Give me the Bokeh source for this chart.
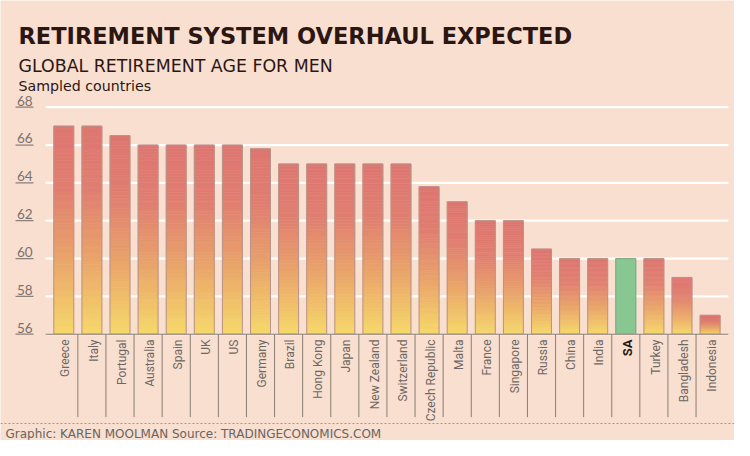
import math
from bokeh.plotting import figure
from bokeh.models import Range1d, Span, ColumnDataSource
from bokeh.core.properties import value
from bokeh.embed import file_html
from bokeh.resources import INLINE

# ---------------- data ----------------
countries = ["Greece", "Italy", "Portugal", "Australia", "Spain", "UK", "US", "Germany",
             "Brazil", "Hong Kong", "Japan", "New Zealand", "Switzerland", "Czech Republic",
             "Malta", "France", "Singapore", "Russia", "China", "India", "SA", "Turkey",
             "Bangladesh", "Indonesia"]
ages = [67, 67, 66.5, 66, 66, 66, 66, 65.8, 65, 65, 65, 65, 65, 63.8,
        63, 62, 62, 60.5, 60, 60, 60, 60, 59, 57]
highlight = "SA"
y_ticks = [56, 58, 60, 62, 64, 66, 68]
y_base = 56
title = "RETIREMENT SYSTEM OVERHAUL EXPECTED"
subtitle = "GLOBAL RETIREMENT AGE  FOR MEN"
note = "Sampled countries"
footer = "Graphic: KAREN MOOLMAN  Source: TRADINGECONOMICS.COM"

# ---------------- layout helpers ----------------
W, H = 734, 440
PX = 28.1      # pixels per category
X0 = 63.3      # canvas px of first category centre
PY = 18.917    # pixels per year
Y56 = 333.7    # canvas px of the baseline value


def dx(px):
    return (px - X0) / PX


def dy(py):
    return y_base + (Y56 - py) / PY


BG = "#f8dfd0"
DARK = "#2b1612"

p = figure(width=W, height=H, output_backend="svg", toolbar_location=None,
           x_range=Range1d(dx(0), dx(W)), y_range=Range1d(dy(H), dy(0)),
           min_border=0, min_border_left=0, min_border_right=0,
           min_border_top=0, min_border_bottom=0)
p.axis.visible = False
p.grid.visible = False
p.outline_line_color = None
p.background_fill_color = BG
p.border_fill_color = BG

n = len(countries)
idx = list(range(n))
left_edge = -0.65
right_edge = n - 1 + 0.65

# gridlines
p.segment(x0=[left_edge] * len(y_ticks), x1=[right_edge] * len(y_ticks),
          y0=y_ticks, y1=y_ticks, line_color="white", line_width=2.2)

# y tick labels with underline
p.segment(x0=[dx(15)] * len(y_ticks), x1=[dx(33)] * len(y_ticks),
          y0=y_ticks, y1=y_ticks, line_color="#8c7f78", line_width=1.3)
p.text(x=[dx(16.5)] * len(y_ticks), y=[t + 1.6 / PY for t in y_ticks],
       text=[str(t) for t in y_ticks], text_font=value("Lato"),
       text_font_size="13.5px", text_color="#7c706a",
       text_baseline="bottom", text_align="left")

# gradient bars
stops = [(0.0, (222, 118, 113)), (0.3, (224, 126, 113)),
         (0.62, (233, 162, 106)), (1.0, (246, 217, 106))]


def grad(t):
    for (t0, c0), (t1, c1) in zip(stops[:-1], stops[1:]):
        if t <= t1:
            f = (t - t0) / (t1 - t0) if t1 > t0 else 0
            c = [round(a + (b - a) * f) for a, b in zip(c0, c1)]
            return "#%02x%02x%02x" % tuple(c)
    return "#%02x%02x%02x" % stops[-1][1]


N = 60
gx, gb, gt, gc = [], [], [], []
for i, (c, v) in enumerate(zip(countries, ages)):
    if c == highlight:
        continue
    for k in range(N):
        b = y_base + (v - y_base) * k / N
        t = y_base + (v - y_base) * (k + 1) / N
        gx.append(i)
        gb.append(b)
        gt.append(t)
        gc.append(grad(1 - (k + 0.5) / N))
BW = 0.71
p.vbar(x=gx, bottom=gb, top=gt, width=BW, fill_color=gc, line_color=gc, line_width=0.6)

# highlight bar
hi = [i for i, c in enumerate(countries) if c == highlight]
p.vbar(x=hi, bottom=y_base, top=[ages[i] for i in hi], width=BW,
       fill_color="#88c791", line_color="#88c791")

# outlines
out_col = ["#7fa883" if c == highlight else "#b8948a" for c in countries]
p.vbar(x=idx, bottom=y_base, top=ages, width=BW, fill_alpha=0,
       line_color=out_col, line_width=1)

# baseline axis
p.segment(x0=[left_edge], x1=[right_edge], y0=[y_base], y1=[y_base],
          line_color="#a8978d", line_width=1.5)

# separators between categories
sep_x = [i + 0.5 for i in range(n - 1)]
p.segment(x0=sep_x, x1=sep_x, y0=[y_base] * len(sep_x), y1=[dy(416.7)] * len(sep_x),
          line_color="#8b7d72", line_width=1)

# category labels
lab_src = ColumnDataSource(dict(
    x=[i + 0.06 for i in idx], y=[dy(339)] * n, text=countries,
    color=["#1e1a18" if c == highlight else "#6e6864" for c in countries],
    style=["bold" if c == highlight else "normal" for c in countries],
    size=["13px" if c == highlight else "12px" for c in countries]))
p.text(x="x", y="y", text="text", source=lab_src, angle=math.pi / 2,
       text_align="right", text_baseline="middle", text_font=value("Roboto"),
       text_font_size="size", text_color="color", text_font_style="style")

# titles
p.text(x=[dx(18)], y=[dy(35)], text=[title], text_font=value("DejaVu Sans"),
       text_font_style="bold", text_font_size="22.5px", text_color=DARK,
       text_baseline="alphabetic", text_align="left")
p.text(x=[dx(18)], y=[dy(65.5)], text=[subtitle], text_font=value("DejaVu Sans"),
       text_font_size="17.4px", text_color=DARK,
       text_baseline="alphabetic", text_align="left")
p.text(x=[dx(18)], y=[dy(85)], text=[note], text_font=value("DejaVu Sans"),
       text_font_size="14.2px", text_color=DARK,
       text_baseline="alphabetic", text_align="left")

# footer
p.add_layout(Span(location=dy(423), dimension="width", line_color="#a0958f",
                  line_width=1, line_dash="2 2"))
p.text(x=[dx(5)], y=[dy(433)], text=[footer], text_font=value("DejaVu Sans"),
       text_font_size="12px", text_color="#6a6462",
       text_baseline="alphabetic", text_align="left")

open("out.html", "w").write(file_html(p, INLINE))
